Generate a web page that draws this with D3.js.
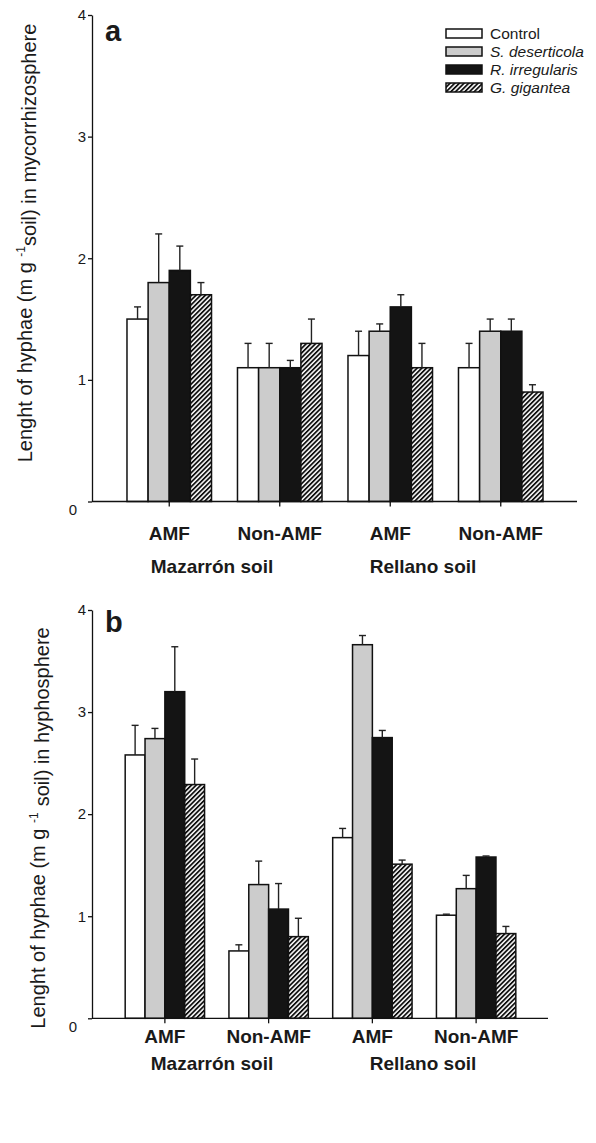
<!DOCTYPE html>
<html>
<head>
<meta charset="utf-8">
<script src="https://cdn.jsdelivr.net/npm/d3@7"></script>
<style>
  body { margin: 0; background: #fff; }
  svg { display: block; }
  text { font-family: "Liberation Sans", Arial, sans-serif; fill: #1a1a1a; }
</style>
</head>
<body>
<div id="chart"></div>
<script>
// categories
const groups = ["mazAMF", "mazNon", "relAMF", "relNon"];
const groupLabels = ["AMF", "Non-AMF", "AMF", "Non-AMF"];
const soils = ["Mazarrón soil", "Rellano soil"];
const treatments = ["Control", "S. deserticola", "R. irregularis", "G. gigantea"];
const yTicks = [0, 1, 2, 3, 4];

// panel a - mycorrhizosphere, means
const controlA = [1.5, 1.1, 1.2, 1.1];
const desertA  = [1.8, 1.1, 1.4, 1.4];
const irregA   = [1.9, 1.1, 1.6, 1.4];
const giganA   = [1.7, 1.3, 1.1, 0.9];
// panel a - standard errors
const controlAse = [0.1, 0.2, 0.2, 0.2];
const desertAse  = [0.4, 0.2, 0.06, 0.1];
const irregAse   = [0.2, 0.06, 0.1, 0.1];
const giganAse   = [0.1, 0.2, 0.2, 0.06];

// panel b - hyphosphere, means
const controlB = [2.58, 0.66, 1.77, 1.01];
const desertB  = [2.74, 1.31, 3.66, 1.27];
const irregB   = [3.20, 1.07, 2.75, 1.58];
const giganB   = [2.29, 0.80, 1.51, 0.83];
// panel b - standard errors
const controlBse = [0.29, 0.06, 0.09, 0.01];
const desertBse  = [0.10, 0.23, 0.09, 0.13];
const irregBse   = [0.44, 0.25, 0.07, 0.01];
const giganBse   = [0.25, 0.18, 0.04, 0.07];

const fills = ["#ffffff", "#cccccc", "#141414", "url(#hatch)"];

const svg = d3.select("#chart")
  .append("svg")
    .attr("width", 596)
    .attr("height", 1143);

// hatch pattern for G. gigantea
const defs = svg.append("defs");
const pat = defs.append("pattern")
    .attr("id", "hatch")
    .attr("patternUnits", "userSpaceOnUse")
    .attr("width", 3.3)
    .attr("height", 3.3)
    .attr("patternTransform", "rotate(45)");
pat.append("rect").attr("width", 3.3).attr("height", 3.3).attr("fill", "#fff");
pat.append("line")
    .attr("x1", 0.9).attr("y1", 0).attr("x2", 0.9).attr("y2", 3.3)
    .attr("stroke", "#111").attr("stroke-width", 1.8);

function drawPanel(p) {
  const g = svg.append("g");

  const y = d3.scaleLinear().domain([0, 4]).range([p.y0, p.y4]);
  const x = d3.scaleBand()
    .domain(groups)
    .range(p.xRange)
    .paddingInner(0.235)
    .paddingOuter(0.1175);
  const xs = d3.scaleBand().domain(treatments).range([0, x.bandwidth()]);

  // bars
  const rows = [];
  treatments.forEach((t, ti) => {
    groups.forEach((gr, gi) => {
      rows.push({t: t, ti: ti, g: gr, v: p.means[ti][gi], se: p.ses[ti][gi]});
    });
  });

  g.selectAll(".bar")
    .data(rows)
    .enter().append("rect")
      .attr("class", "bar")
      .attr("x", d => x(d.g) + xs(d.t))
      .attr("y", d => y(d.v))
      .attr("width", xs.bandwidth())
      .attr("height", d => y(0) - y(d.v))
      .attr("fill", d => fills[d.ti])
      .attr("stroke", "#111")
      .attr("stroke-width", 1.5);

  // error bars (upper only)
  const eb = g.selectAll(".err")
    .data(rows)
    .enter().append("g")
      .attr("class", "err")
      .attr("stroke", "#222")
      .attr("stroke-width", 1.4);
  eb.append("line")
    .attr("x1", d => x(d.g) + xs(d.t) + xs.bandwidth() / 2)
    .attr("x2", d => x(d.g) + xs(d.t) + xs.bandwidth() / 2)
    .attr("y1", d => y(d.v))
    .attr("y2", d => y(d.v + d.se));
  eb.append("line")
    .attr("x1", d => x(d.g) + xs(d.t) + xs.bandwidth() / 2 - 3.5)
    .attr("x2", d => x(d.g) + xs(d.t) + xs.bandwidth() / 2 + 3.5)
    .attr("y1", d => y(d.v + d.se))
    .attr("y2", d => y(d.v + d.se));

  // y axis
  const yAxis = g.append("g")
    .attr("transform", "translate(92,0)")
    .call(d3.axisLeft(y).tickValues(yTicks).tickFormat(d3.format("d"))
      .tickSize(4).tickSizeOuter(0).tickPadding(2));
  yAxis.selectAll("path, line").attr("stroke", "#111").attr("stroke-width", 1.3);
  yAxis.selectAll("text").style("font-size", "15px").attr("fill", "#1a1a1a");
  // zero label sits lower-left of the origin
  yAxis.selectAll(".tick").filter(d => d === 0).select("text")
    .attr("dx", -9).attr("dy", "0.85em");

  // x axis
  const xAxis = g.append("g")
    .attr("transform", `translate(0,${p.y0})`)
    .call(d3.axisBottom(x).tickFormat((d, i) => groupLabels[i])
      .tickSize(5).tickSizeOuter(0).tickPadding(p.labelPad));
  xAxis.select(".domain").remove();
  xAxis.selectAll("line").attr("stroke", "#111").attr("stroke-width", 1.3);
  xAxis.selectAll("text")
    .style("font-size", "19px")
    .style("font-weight", "bold")
    .attr("fill", "#1a1a1a");
  g.append("line")
    .attr("x1", 92).attr("x2", p.axisEnd)
    .attr("y1", p.y0).attr("y2", p.y0)
    .attr("stroke", "#111").attr("stroke-width", 1.3);

  // soil labels
  g.selectAll(".soil")
    .data(soils)
    .enter().append("text")
      .attr("class", "soil")
      .attr("x", (d, i) => [212, 423][i])
      .attr("y", p.soilY)
      .attr("text-anchor", "middle")
      .style("font-size", "19px")
      .style("font-weight", "bold")
      .text(d => d);

  // panel letter
  g.append("text")
    .attr("x", 105)
    .attr("y", p.letterY)
    .style("font-size", "29px")
    .style("font-weight", "bold")
    .text(p.letter);

  // y label
  const yl = g.append("text")
    .attr("transform", `translate(${p.ylabX},${p.ylabY}) rotate(-90)`)
    .attr("text-anchor", "middle")
    .style("font-size", "20px");
  yl.append("tspan").text("Lenght of hyphae (m g ");
  yl.append("tspan").attr("dy", "-0.55em").style("font-size", "12px").text("-1");
  yl.append("tspan").attr("dy", "0.55em").attr("dx", p.supGap).text(p.ylabTail);
}

drawPanel({
  y0: 501.5, y4: 15, xRange: [114, 556], axisEnd: 577,
  means: [controlA, desertA, irregA, giganA],
  ses: [controlAse, desertAse, irregAse, giganAse],
  labelPad: 20, soilY: 573, letter: "a", letterY: 41,
  ylabX: 32, ylabY: 243, supGap: 0, ylabTail: "soil) in mycorrhizosphere"
});

drawPanel({
  y0: 1018.3, y4: 610, xRange: [113, 528], axisEnd: 548,
  means: [controlB, desertB, irregB, giganB],
  ses: [controlBse, desertBse, irregBse, giganBse],
  labelPad: 6, soilY: 1070, letter: "b", letterY: 632,
  ylabX: 45, ylabY: 828, supGap: 6, ylabTail: "soil) in hyphosphere"
});

// legend
const legend = svg.append("g");
legend.selectAll("rect")
  .data(treatments)
  .enter().append("rect")
    .attr("x", 446)
    .attr("y", (d, i) => 29 + i * 18)
    .attr("width", 36)
    .attr("height", 9)
    .attr("fill", (d, i) => fills[i])
    .attr("stroke", "#111")
    .attr("stroke-width", 1.5);
legend.selectAll("text")
  .data(treatments)
  .enter().append("text")
    .attr("x", 490)
    .attr("y", (d, i) => 33.5 + i * 18)
    .attr("dy", "0.35em")
    .style("font-size", "15.5px")
    .style("font-style", (d, i) => i === 0 ? "normal" : "italic")
    .text(d => d);
</script>
</body>
</html>
